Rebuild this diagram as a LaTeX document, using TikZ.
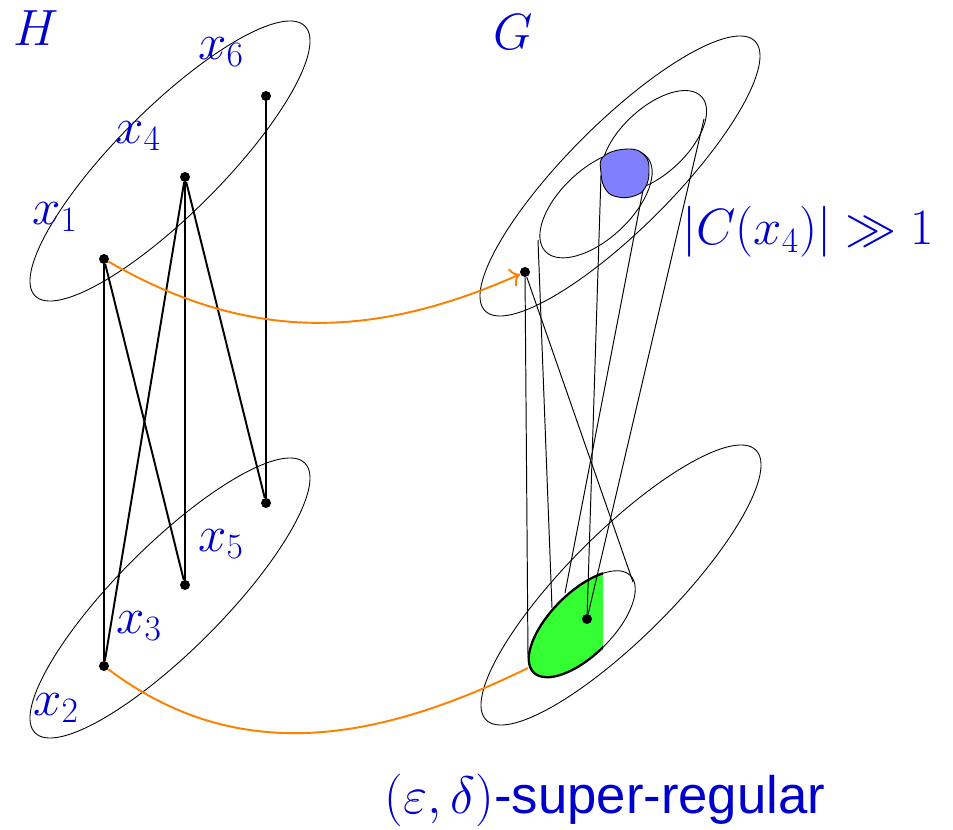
\RequirePackage{fix-cm}
\documentclass[tikz,border=0pt]{standalone}
\usepackage[no-math]{fontspec}
\setmainfont{Liberation Sans}
\usetikzlibrary{arrows.meta}
\definecolor{lblue}{RGB}{0,0,205}
\definecolor{myorange}{RGB}{255,128,0}
\definecolor{mygreen}{RGB}{51,255,51}
\definecolor{myblob}{RGB}{128,128,255}
\begin{document}
\begin{tikzpicture}[x=0.02cm,y=-0.02cm,
  dot/.style={circle,fill=black,inner sep=0pt,minimum size=0.2cm},
  lab/.style={text=lblue,font=\fontsize{29}{34}\selectfont,inner sep=0pt},
  hedge/.style={line width=1.1pt},
  gline/.style={line width=0.55pt},
  oval/.style={line width=0.5pt},
  orangeline/.style={draw=myorange,line width=1.1pt}]
\useasboundingbox (0,0) rectangle (953,830);

% H clusters
\draw[oval,rotate around={45:(170,161)}] (170,161) ellipse [x radius=3.816cm, y radius=1.058cm];
\draw[oval,rotate around={45:(170,598)}] (170,598) ellipse [x radius=3.816cm, y radius=1.058cm];

% G clusters
\draw[oval,rotate around={45:(620,176)}] (620,176) ellipse [x radius=3.816cm, y radius=1.058cm];
\draw[oval,rotate around={45:(621,585)}] (621,585) ellipse [x radius=3.816cm, y radius=1.058cm];
\draw[oval,rotate around={43:(596,204)}] (596,204) ellipse [x radius=1.388cm, y radius=0.704cm];
\draw[oval,rotate around={43:(654,141)}] (654,141) ellipse [x radius=1.30cm, y radius=0.66cm];

% green part of the small ellipse
\begin{scope}
  \clip (0,0) rectangle (603,830);
  \fill[mygreen,rotate around={45:(582,624)}] (582,624) ellipse [x radius=1.37cm, y radius=0.626cm];
  \draw[line width=1.3pt,rotate around={45:(582,624)}] (582,624) ellipse [x radius=1.37cm, y radius=0.626cm];
\end{scope}
\draw[oval,rotate around={45:(582,624)}] (582,624) ellipse [x radius=1.37cm, y radius=0.626cm];

% H vertices
\node[dot] (x1) at (104,259) {};
\node[dot] (x4) at (185,177) {};
\node[dot] (x6) at (266,96) {};
\node[dot] (x2) at (104,666) {};
\node[dot] (x3) at (185,585) {};
\node[dot] (x5) at (266,503) {};

\draw[hedge] (x1) -- (x2);
\draw[hedge] (x1) -- (x3);
\draw[hedge] (x4) -- (x2);
\draw[hedge] (x4) -- (x3);
\draw[hedge] (x4) -- (x5);
\draw[hedge] (x6) -- (x5);

% G vertices and tangent points
\node[dot] (gv) at (525,272) {};
\node[dot] (gw) at (587,619) {};
\coordinate (sL) at (528,657);
\coordinate (sR) at (633,582);
\coordinate (eL) at (538,240);
\coordinate (eR) at (643,190);
\coordinate (gA) at (552,608);
\coordinate (gB) at (565,593);
\coordinate (fL) at (601,175);
\coordinate (fR) at (704,119);
\coordinate (gE) at (528,668);

\draw[gline] (gv) -- (sL);
\draw[gline] (gv) -- (sR);
\draw[gline] (eL) -- (gA);
\draw[gline] (eR) -- (gB);
\draw[gline] (fL) -- (gw);
\draw[gline] (fR) -- (gw);

% blue blob
\draw[line width=0.5pt,fill=myblob] plot[smooth cycle,tension=0.75] coordinates
  {(601,173) (604,156) (629,149) (645,156) (649,171) (645,188) (634,196) (618,197) (606,190)};

% orange maps
\draw[orangeline,-{To[scale=1.3]}] (x1) to[out=-30,in=204] (gv);
\draw[orangeline] (x2) to[out=-37,in=206] (gE);

% labels
\node[lab] (lH) at (36,28) {$H$};
\node[lab] (lG) at (513,32) {$G$};
\node[lab] (lx6) at (221,52) {$x_6$};
\node[lab] (lx4) at (138,136) {$x_4$};
\node[lab] (lx1) at (55,217) {$x_1$};
\node[lab] (lx5) at (221,544) {$x_5$};
\node[lab] (lx3) at (139,626) {$x_3$};
\node[lab] (lx2) at (56,708) {$x_2$};
\node[lab] (lC) at (808,232) {$|C(x_4)| \gg 1$};
\node[lab,font=\fontsize{30}{35}\selectfont] (lreg) at (605,800) {$(\varepsilon,\delta)$-super-regular};
\end{tikzpicture}
\end{document}
